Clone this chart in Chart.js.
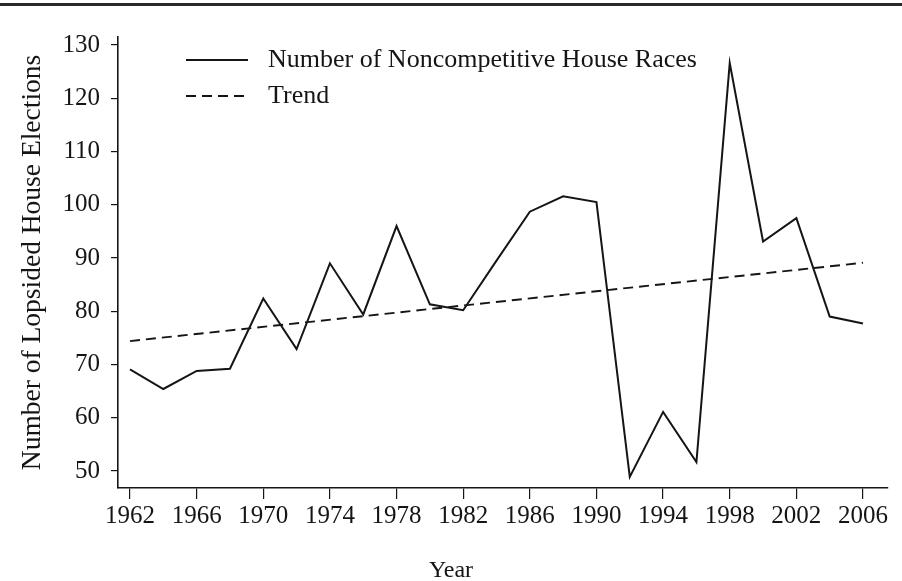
<!DOCTYPE html>
<html lang="en">
<head>
  <meta charset="UTF-8" />
  <title>Noncompetitive House Races</title>
  <script src="https://cdn.jsdelivr.net/npm/chart.js"></script>
  <style>
    html, body { margin: 0; padding: 0; background: #fff; }
    #houseChart { display: block; }
  </style>
</head>
<body>
  <canvas id="houseChart" width="902" height="581"></canvas>

  <script>
    // values
    const years = [1962, 1964, 1966, 1968, 1970, 1972, 1974, 1976, 1978, 1980, 1982, 1984,
                   1986, 1988, 1990, 1992, 1994, 1996, 1998, 2000, 2002, 2004, 2006];
    const races = [69.1, 65.4, 68.8, 69.2, 82.4, 72.9, 89.0, 79.4, 96.0, 81.3, 80.2, 89.5,
                   98.7, 101.6, 100.5, 48.9, 61.1, 51.7, 126.6, 93.1, 97.5, 79.0, 77.7];
    const trendYears = [1962, 2006];
    const trendValues = [74.4, 89.1];

    const xTicks = [1962, 1966, 1970, 1974, 1978, 1982, 1986, 1990, 1994, 1998, 2002, 2006];
    const yTicks = [50, 60, 70, 80, 90, 100, 110, 120, 130];

    const seriesLabel = 'Number of Noncompetitive House Races';
    const trendLabel = 'Trend';
    const xTitle = 'Year';
    const yTitle = 'Number of Lopsided House Elections';

    const ink = '#151515';
    const serif = '"Liberation Serif", "Times New Roman", serif';

    // thin rule across the top of the page
    const topRule = {
      id: 'topRule',
      beforeDraw(chart) {
        const c = chart.ctx;
        c.save();
        c.strokeStyle = '#2a2a2a';
        c.lineWidth = 3;
        c.beginPath();
        c.moveTo(0, 4.5);
        c.lineTo(chart.width, 4.5);
        c.stroke();
        c.restore();
      }
    };

    // legend sits inside the plot, top left, one row per dataset
    const insideLegend = {
      id: 'insideLegend',
      afterDraw(chart) {
        const c = chart.ctx;
        const rows = [60, 96];
        c.save();
        c.font = '26px ' + serif;
        c.textBaseline = 'middle';
        c.fillStyle = ink;
        chart.data.datasets.forEach((ds, i) => {
          const y = rows[i];
          c.strokeStyle = ds.borderColor;
          c.lineWidth = ds.borderWidth;
          c.setLineDash(ds.borderDash || []);
          c.beginPath();
          c.moveTo(186, y);
          c.lineTo(248, y);
          c.stroke();
          c.setLineDash([]);
          c.fillText(ds.label, 268, y);
        });
        c.restore();
      }
    };

    // x title is centred on the page, not on the plot
    const xAxisTitle = {
      id: 'xAxisTitle',
      afterDraw(chart) {
        const c = chart.ctx;
        c.save();
        c.font = '24px ' + serif;
        c.fillStyle = ink;
        c.textAlign = 'center';
        c.textBaseline = 'middle';
        c.fillText(xTitle, chart.width / 2, 571);
        c.restore();
      }
    };

    const ctx = document.getElementById('houseChart').getContext('2d');
    new Chart(ctx, {
      type: 'line',
      data: {
        datasets: [{
          label: seriesLabel,
          data: years.map((yr, i) => ({ x: yr, y: races[i] })),
          borderColor: ink,
          borderWidth: 2,
          pointRadius: 0,
          tension: 0,
          fill: false
        }, {
          label: trendLabel,
          data: trendYears.map((yr, i) => ({ x: yr, y: trendValues[i] })),
          borderColor: ink,
          borderWidth: 1.9,
          borderDash: [10, 6],
          pointRadius: 0,
          tension: 0,
          fill: false
        }]
      },
      options: {
        responsive: false,
        animation: false,
        devicePixelRatio: 1,
        layout: { padding: { top: 37, right: 14, left: 0, bottom: 0 } },
        plugins: {
          legend: { display: false },
          tooltip: { enabled: false }
        },
        scales: {
          x: {
            type: 'linear',
            min: 1961.28,
            max: 2007.5,
            afterBuildTicks: axis => { axis.ticks = xTicks.map(v => ({ value: v })); },
            afterFit: axis => { axis.height = 93; },
            border: { display: true, color: ink, width: 1.6 },
            grid: { drawOnChartArea: false, drawTicks: true, tickLength: 11, color: ink, lineWidth: 1.2 },
            ticks: {
              color: ink,
              padding: 2,
              maxRotation: 0,
              autoSkip: false,
              font: { family: serif, size: 25 },
              callback: v => String(v)
            }
          },
          y: {
            min: 46.81,
            max: 131.5,
            afterBuildTicks: axis => { axis.ticks = yTicks.map(v => ({ value: v })); },
            afterFit: axis => { axis.width = 118; },
            border: { display: true, color: ink, width: 1.6 },
            grid: { drawOnChartArea: false, drawTicks: true, tickLength: 7, color: ink, lineWidth: 1.2 },
            ticks: {
              color: ink,
              padding: 11,
              autoSkip: false,
              font: { family: serif, size: 25 }
            },
            title: {
              display: true,
              text: yTitle,
              color: ink,
              padding: { top: 16, bottom: 0 },
              font: { family: serif, size: 27.5 }
            }
          }
        }
      },
      plugins: [topRule, insideLegend, xAxisTitle]
    });
  </script>
</body>
</html>
